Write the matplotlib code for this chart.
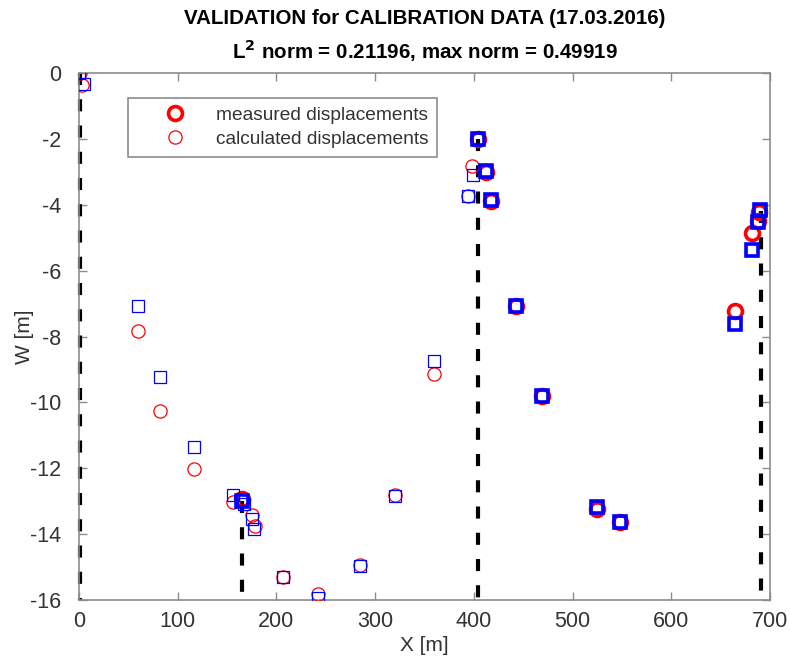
import numpy as np
import matplotlib.pyplot as plt

plt.rcParams["font.family"] = ["Liberation Sans", "DejaVu Sans"]
plt.rcParams["axes.unicode_minus"] = False

# measured displacements (thick markers)
meas_x_red = [404, 412, 417, 443, 469, 525, 548, 165, 689, 688, 682, 665]
meas_w_red = [-2.0, -3.0, -3.88, -7.07, -9.82, -13.25, -13.64, -12.93, -4.22, -4.5, -4.86, -7.23]
meas_x_blue = [404, 412, 417, 443, 469, 525, 548, 165, 690, 688, 682, 665]
meas_w_blue = [-2.0, -2.98, -3.86, -7.07, -9.82, -13.18, -13.63, -12.99, -4.15, -4.52, -5.37, -7.62]

# calculated displacements (thin markers)
calc_x_red = [1, 3, 60, 82, 116, 156, 166, 175, 178, 207, 242, 285, 320, 360, 394, 398,
              404, 412, 417, 443, 469, 525, 548, 665, 682, 689]
calc_w_red = [0.0, -0.37, -7.82, -10.25, -12.02, -13.02, -12.95, -13.42, -13.75, -15.3, -15.82,
              -14.95, -12.8, -9.13, -3.72, -2.82, -2.02, -3.0, -3.88, -7.05, -9.82, -13.28,
              -13.63, -7.22, -4.86, -4.22]
calc_x_blue = [0, 5, 60, 82, 116, 156, 167, 175, 177, 207, 242, 285, 320, 360, 394, 399,
               404, 412, 417, 443, 469, 525, 548, 665, 682, 690]
calc_w_blue = [0.0, -0.33, -7.07, -9.23, -11.35, -12.82, -13.1, -13.55, -13.85, -15.3, -15.95,
               -14.97, -12.83, -8.75, -3.73, -3.1, -2.0, -2.98, -3.86, -7.07, -9.82, -13.18,
               -13.63, -7.62, -5.37, -4.15]

# vertical dashed elements: x position and top level
wall_x = [1, 165, 404, 691]
wall_top = [0.0, -13.0, -2.0, -4.2]
w_bottom = -16

fig = plt.figure(figsize=(7.9, 6.64), dpi=100)
ax = fig.add_axes([0.1, 0.0964, 0.8747, 0.7936])

for xw, top in zip(wall_x, wall_top):
    ax.plot([xw, xw], [top, w_bottom], color="black", lw=3, dashes=(2.9, 3.4),
            dash_capstyle="butt", zorder=2.5, clip_on=False)

ax.plot(meas_x_red, meas_w_red, "o", mfc="none", mec="red", ms=10, mew=2.6,
        label="measured displacements", zorder=3)
ax.plot(calc_x_red, calc_w_red, "o", mfc="none", mec="red", ms=9.5, mew=0.9,
        label="calculated displacements", zorder=3)
ax.plot(meas_x_blue, meas_w_blue, "s", mfc="none", mec="blue", ms=8.5, mew=2.6, zorder=4)
ax.plot(calc_x_blue, calc_w_blue, "s", mfc="none", mec="blue", ms=8, mew=0.9, zorder=4)

ax.set_xlim(0, 700)
ax.set_ylim(-16, 0)
ax.set_xticks(np.arange(0, 701, 100))
ax.set_yticks(np.arange(-16, 1, 2))

for s in ax.spines.values():
    s.set_color("#8c8c8c")
    s.set_linewidth(1.2)
ax.tick_params(direction="in", top=True, right=True, length=6, width=1,
               color="#8c8c8c", labelcolor="#333333", labelsize=15.5)
ax.tick_params(axis="y", pad=13)
ax.tick_params(axis="x", pad=8)

ax.set_xlabel("X [m]", fontsize=15, color="#333333", labelpad=3)
ax.set_ylabel("W [m]", fontsize=15, color="#333333", labelpad=-3)
ax.set_title("VALIDATION for CALIBRATION DATA (17.03.2016)\n"
             r"L$^\mathbf{2}$ norm = 0.21196, max norm = 0.49919",
             fontsize=14.8, fontweight="bold", linespacing=1.45, pad=10)

leg = ax.legend(loc="upper left", bbox_to_anchor=(0.0709, 0.9526), borderaxespad=0,
                fontsize=13.8, fancybox=False, framealpha=1, edgecolor="#8c8c8c",
                handletextpad=0.15, borderpad=0.45, handlelength=4.0, labelspacing=0.35)
leg.get_frame().set_linewidth(1.2)
for t in leg.get_texts():
    t.set_color("#333333")

fig.savefig("out.png", dpi=100)
